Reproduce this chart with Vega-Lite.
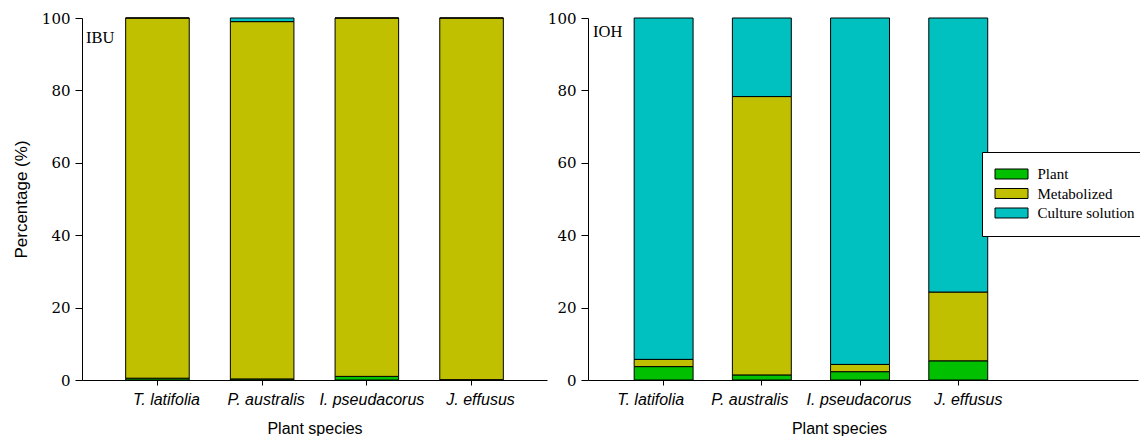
{
  "$schema": "https://vega.github.io/schema/vega-lite/v6.json",
  "padding": {"left": 12, "top": 11, "right": 0, "bottom": 0},
  "spacing": 0,
  "background": "white",
  "resolve": {"scale": {"color": "independent"}, "legend": {"color": "independent"}},
  "config": {
    "view": {"stroke": null},
    "axis": {"domainColor": "black", "tickColor": "black", "labelColor": "black", "titleColor": "black", "grid": false, "domainWidth": 1, "tickWidth": 1}
  },
  "data": {
    "values": [
      {"panel": "IBU", "species": "T. latifolia", "component": "Plant", "ord": 1, "value": 0.5},
      {"panel": "IBU", "species": "T. latifolia", "component": "Metabolized", "ord": 2, "value": 99.5},
      {"panel": "IBU", "species": "T. latifolia", "component": "Culture solution", "ord": 3, "value": 0},
      {"panel": "IBU", "species": "P. australis", "component": "Plant", "ord": 1, "value": 0.3},
      {"panel": "IBU", "species": "P. australis", "component": "Metabolized", "ord": 2, "value": 98.7},
      {"panel": "IBU", "species": "P. australis", "component": "Culture solution", "ord": 3, "value": 1.0},
      {"panel": "IBU", "species": "I. pseudacorus", "component": "Plant", "ord": 1, "value": 1.0},
      {"panel": "IBU", "species": "I. pseudacorus", "component": "Metabolized", "ord": 2, "value": 99.0},
      {"panel": "IBU", "species": "I. pseudacorus", "component": "Culture solution", "ord": 3, "value": 0},
      {"panel": "IBU", "species": "J. effusus", "component": "Plant", "ord": 1, "value": 0.1},
      {"panel": "IBU", "species": "J. effusus", "component": "Metabolized", "ord": 2, "value": 99.9},
      {"panel": "IBU", "species": "J. effusus", "component": "Culture solution", "ord": 3, "value": 0},
      {"panel": "IOH", "species": "T. latifolia", "component": "Plant", "ord": 1, "value": 3.7},
      {"panel": "IOH", "species": "T. latifolia", "component": "Metabolized", "ord": 2, "value": 2.0},
      {"panel": "IOH", "species": "T. latifolia", "component": "Culture solution", "ord": 3, "value": 94.3},
      {"panel": "IOH", "species": "P. australis", "component": "Plant", "ord": 1, "value": 1.4},
      {"panel": "IOH", "species": "P. australis", "component": "Metabolized", "ord": 2, "value": 76.9},
      {"panel": "IOH", "species": "P. australis", "component": "Culture solution", "ord": 3, "value": 21.7},
      {"panel": "IOH", "species": "I. pseudacorus", "component": "Plant", "ord": 1, "value": 2.3},
      {"panel": "IOH", "species": "I. pseudacorus", "component": "Metabolized", "ord": 2, "value": 2.0},
      {"panel": "IOH", "species": "I. pseudacorus", "component": "Culture solution", "ord": 3, "value": 95.7},
      {"panel": "IOH", "species": "J. effusus", "component": "Plant", "ord": 1, "value": 5.3},
      {"panel": "IOH", "species": "J. effusus", "component": "Metabolized", "ord": 2, "value": 19.0},
      {"panel": "IOH", "species": "J. effusus", "component": "Culture solution", "ord": 3, "value": 75.7}
    ]
  },
  "hconcat": [
    {
      "width": 465,
      "height": 362,
      "transform": [{"filter": "datum.panel === 'IBU'"}],
      "title": {"text": "IBU", "anchor": "start", "frame": "group", "orient": "top", "offset": -25, "dx": 4, "dy": 23, "baseline": "alphabetic", "font": "Liberation Serif", "fontSize": 16.5, "fontWeight": "normal", "color": "black"},
      "mark": {"type": "bar", "stroke": "black", "strokeWidth": 1},
      "encoding": {
        "x": {
          "field": "species", "type": "nominal",
          "sort": ["T. latifolia", "P. australis", "I. pseudacorus", "J. effusus"],
          "scale": {"paddingInner": 0.393, "paddingOuter": 0.417},
          "axis": {
            "labelAngle": 0, "labelFont": "Liberation Sans", "labelFontStyle": "italic", "labelFontSize": 16, "tickSize": 5, "labelPadding": 6,
            "titleFont": "Liberation Sans", "titleFontSize": 16, "titleFontWeight": "normal", "titlePadding": 13,
            "labelOffset": {"condition": [{"test": "datum.value === 'T. latifolia'", "value": 9}, {"test": "datum.value === 'P. australis'", "value": 4}, {"test": "datum.value === 'I. pseudacorus'", "value": 5}], "value": 9}
          },
          "title": "Plant species"
        },
        "y": {
          "field": "value", "type": "quantitative", "stack": "zero",
          "scale": {"domain": [0, 100], "nice": false},
          "axis": {"values": [0, 20, 40, 60, 80, 100], "tickSize": 7, "labelPadding": 5, "labelFont": "DejaVu Serif", "labelFontSize": 15, "titleFont": "Liberation Sans", "titleFontSize": 17, "titleFontWeight": "normal", "titlePadding": 11},
          "title": "Percentage (%)"
        },
        "color": {
          "field": "component", "type": "nominal",
          "scale": {"domain": ["Plant", "Metabolized", "Culture solution"], "range": ["#00C000", "#C0C000", "#00C0C0"]},
          "legend": null
        },
        "order": {"field": "ord", "type": "quantitative"}
      }
    },
    {
      "width": 550,
      "height": 362,
      "transform": [{"filter": "datum.panel === 'IOH'"}],
      "title": {"text": "IOH", "anchor": "start", "frame": "group", "orient": "top", "offset": -20, "dx": 5, "dy": 22, "baseline": "alphabetic", "font": "Liberation Serif", "fontSize": 16.5, "fontWeight": "normal", "color": "black"},
      "mark": {"type": "bar", "stroke": "black", "strokeWidth": 1},
      "encoding": {
        "x": {
          "field": "species", "type": "nominal",
          "sort": ["T. latifolia", "P. australis", "I. pseudacorus", "J. effusus"],
          "scale": {"paddingInner": 0.4, "paddingOuter": 1.044, "align": 0.235},
          "axis": {
            "labelAngle": 0, "labelFont": "Liberation Sans", "labelFontStyle": "italic", "labelFontSize": 16, "tickSize": 5, "labelPadding": 6,
            "titleFont": "Liberation Sans", "titleFontSize": 16, "titleFontWeight": "normal", "titlePadding": 13, "titleX": 251,
            "labelOffset": {"condition": [{"test": "datum.value === 'T. latifolia'", "value": -13}, {"test": "datum.value === 'P. australis'", "value": -12}, {"test": "datum.value === 'I. pseudacorus'", "value": -1}], "value": 10}
          },
          "title": "Plant species"
        },
        "y": {
          "field": "value", "type": "quantitative", "stack": "zero",
          "scale": {"domain": [0, 100], "nice": false},
          "axis": {"values": [0, 20, 40, 60, 80, 100], "tickSize": 7, "labelPadding": 5, "labelFont": "DejaVu Serif", "labelFontSize": 15},
          "title": null
        },
        "color": {
          "field": "component", "type": "nominal",
          "scale": {"domain": ["Plant", "Metabolized", "Culture solution"], "range": ["#00C000", "#C0C000", "#00C0C0"]},
          "legend": {
            "title": null, "orient": "none", "legendX": 394, "legendY": 134,
            "strokeColor": "black", "fillColor": "white", "padding": 14.5,
            "symbolType": "M-1.5,-0.833H4V0.833H-1.5Z", "symbolSize": 144,
            "symbolStrokeColor": "black", "symbolStrokeWidth": 1, "symbolOpacity": 1,
            "labelFont": "Liberation Serif", "labelFontSize": 15, "labelColor": "black",
            "labelOffset": 26, "rowPadding": 3.5
          }
        },
        "order": {"field": "ord", "type": "quantitative"}
      }
    }
  ]
}
